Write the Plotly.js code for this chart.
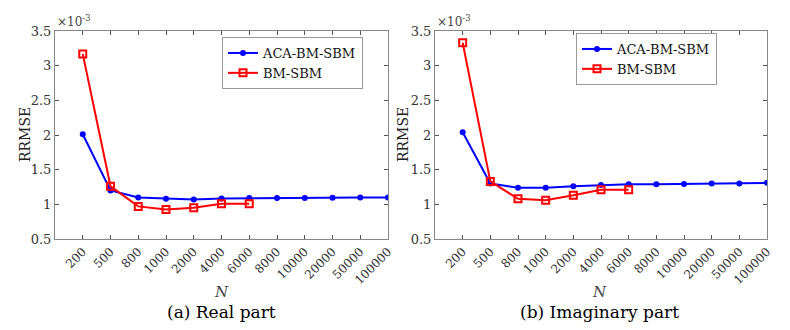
<!DOCTYPE html>
<html>
<head>
<meta charset="utf-8">
<script src="https://cdn.plot.ly/plotly-3.0.1.min.js"></script>
<style>
  body { margin: 0; background: #fff; }
  #plot { width: 790px; height: 330px; }
</style>
</head>
<body>
<div id="plot"></div>
<script>
// Categories on the x axis (N)
let nLabels = ['200', '500', '800', '1000', '2000', '4000', '6000', '8000', '10000', '20000', '50000', '100000'];

// RRMSE values, in units of 1e-3
let realAca = [2.01, 1.20, 1.10, 1.08, 1.07, 1.085, 1.09, 1.09, 1.09, 1.095, 1.10, 1.10];
let realBm = [3.17, 1.26, 0.97, 0.925, 0.95, 1.01, 1.01];
let imagAca = [2.04, 1.30, 1.24, 1.24, 1.26, 1.28, 1.29, 1.29, 1.295, 1.30, 1.30, 1.31];
let imagBm = [3.33, 1.33, 1.08, 1.06, 1.13, 1.21, 1.21];

let serif = 'DejaVu Serif';
let blue = '#0000ff';
let red = '#ff0000';

function acaTrace(y, xa, ya) {
    return {
        x: nLabels.slice(0, y.length), y: y, xaxis: xa, yaxis: ya,
        type: 'scatter', mode: 'lines+markers', name: 'ACA-BM-SBM',
        line: {color: blue, width: 2},
        marker: {symbol: 'circle', size: 6, color: blue},
        legend: xa == 'x' ? 'legend' : 'legend2'
    };
}

function bmTrace(y, xa, ya) {
    return {
        x: nLabels.slice(0, y.length), y: y, xaxis: xa, yaxis: ya,
        type: 'scatter', mode: 'lines+markers', name: 'BM-SBM',
        line: {color: red, width: 2},
        marker: {symbol: 'square-open', size: 7, color: red, line: {width: 2, color: red}},
        legend: xa == 'x' ? 'legend' : 'legend2'
    };
}

let data = [
    acaTrace(realAca, 'x', 'y'),
    bmTrace(realBm, 'x', 'y'),
    acaTrace(imagAca, 'x2', 'y2'),
    bmTrace(imagBm, 'x2', 'y2')
];

let yTop = 1 - 31 / 330;
let yBottom = 1 - 239 / 330;

function xAxis(domain, anchor) {
    return {
        domain: domain, anchor: anchor, type: 'category', range: [-1, 11],
        tickangle: -45, ticks: 'inside', ticklen: 4, tickcolor: '#555',
        showline: true, linecolor: '#888', linewidth: 1, mirror: 'ticks',
        showgrid: false, zeroline: false,
        tickfont: {family: serif, size: 12, color: '#333'}
    };
}

function yAxis(anchor) {
    return {
        domain: [yBottom, yTop], anchor: anchor, range: [0.5, 3.5], dtick: 0.5,
        ticks: 'inside', ticklen: 4, tickcolor: '#555',
        showline: true, linecolor: '#888', linewidth: 1, mirror: 'ticks',
        showgrid: false, zeroline: false,
        tickfont: {family: serif, size: 13, color: '#333'}
    };
}

let legendStyle = {
    font: {family: serif, size: 13, color: '#111'},
    bgcolor: '#fff', bordercolor: '#999', borderwidth: 1,
    xanchor: 'left', yanchor: 'top', tracegroupgap: 0
};

function note(text, x, y, opts) {
    return Object.assign({
        text: text, x: x, y: y, xref: 'paper', yref: 'paper',
        xanchor: 'center', yanchor: 'middle',
        showarrow: false, font: {family: serif, size: 14, color: '#333'}
    }, opts || {});
}

let layout = {
    width: 790, height: 330,
    margin: {l: 0, r: 0, t: 0, b: 0},
    paper_bgcolor: '#fff', plot_bgcolor: '#fff',
    font: {family: serif},
    xaxis: xAxis([55 / 790, 388 / 790], 'y'),
    yaxis: yAxis('x'),
    xaxis2: xAxis([435 / 790, 767 / 790], 'y2'),
    yaxis2: yAxis('x2'),
    legend: Object.assign({x: 222 / 790, y: 1 - 37 / 330}, legendStyle),
    legend2: Object.assign({x: 576 / 790, y: 1 - 33 / 330}, legendStyle),
    annotations: [
        note('×10<sup>-3</sup>', 55 / 790, yTop, {xanchor: 'left', yanchor: 'bottom', font: {family: serif, size: 12, color: '#444'}}),
        note('×10<sup>-3</sup>', 435 / 790, yTop, {xanchor: 'left', yanchor: 'bottom', font: {family: serif, size: 12, color: '#444'}}),
        note('RRMSE', 25 / 790, 1 - 135 / 330, {textangle: -90, font: {family: serif, size: 14, color: '#222'}}),
        note('RRMSE', 403 / 790, 1 - 135 / 330, {textangle: -90, font: {family: serif, size: 14, color: '#222'}}),
        note('<i>N</i>', 221 / 790, 1 - 292 / 330, {font: {family: serif, size: 15, color: '#444'}}),
        note('<i>N</i>', 599 / 790, 1 - 292 / 330, {font: {family: serif, size: 15, color: '#444'}}),
        note('(a) Real part', 221 / 790, 1 - 312 / 330, {font: {family: serif, size: 17, color: '#000'}}),
        note('(b) Imaginary part', 599 / 790, 1 - 312 / 330, {font: {family: serif, size: 17, color: '#000'}})
    ]
};

Plotly.newPlot('plot', data, layout, {staticPlot: true});
</script>
</body>
</html>
